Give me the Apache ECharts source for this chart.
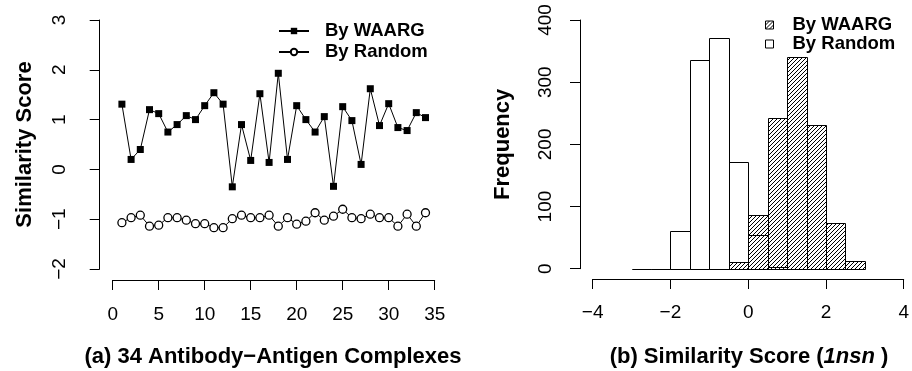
<!DOCTYPE html>
<html>
<head>
<meta charset="utf-8">
<script src="https://cdn.jsdelivr.net/npm/echarts@6/dist/echarts.min.js"></script>
<style>
  html, body { margin: 0; padding: 0; background: #fff; }
  #chart { width: 912px; height: 371px; }
</style>
</head>
<body>
<div id="chart"></div>
<script>
// panel (a): 34 complexes
const caseIdx = [1, 2, 3, 4, 5, 6, 7, 8, 9, 10, 11, 12, 13, 14, 15, 16, 17,
  18, 19, 20, 21, 22, 23, 24, 25, 26, 27, 28, 29, 30, 31, 32, 33, 34];
const waarg = [1.31, 0.20, 0.40, 1.20, 1.12, 0.75, 0.90, 1.08, 1.00, 1.28, 1.54, 1.31,
  -0.35, 0.90, 0.18, 1.52, 0.14, 1.93, 0.20, 1.28, 1.00, 0.75, 1.06, -0.34,
  1.26, 0.98, 0.10, 1.62, 0.88, 1.32, 0.84, 0.78, 1.14, 1.04];
const random = [-1.07, -0.97, -0.92, -1.14, -1.12, -0.97, -0.97, -1.02, -1.09, -1.09,
  -1.17, -1.17, -0.99, -0.92, -0.97, -0.97, -0.92, -1.14, -0.97, -1.10, -1.04,
  -0.87, -1.02, -0.94, -0.80, -0.97, -0.99, -0.90, -0.97, -0.97, -1.14, -0.90,
  -1.14, -0.87];

// panel (b): histograms, bin width 0.5
const binWidth = 0.5;
const randomBinStarts = [-3, -2.5, -2, -1.5, -1, -0.5, 0, 0.5];
const randomCounts = [0, 0, 60, 336, 371, 171, 54, 3];
const waargBinStarts = [-0.5, 0, 0.5, 1, 1.5, 2, 2.5];
const waargCounts = [11, 86, 243, 341, 231, 73, 13];

const legendNames = ['By WAARG', 'By Random'];

const FONT = 'Liberation Sans';
const minus = v => String(v).replace('-', '\u2212');

// "////" hatching like R's density shading
function hatchCanvas() {
  const c = document.createElement('canvas');
  c.width = 4; c.height = 4;
  const g = c.getContext('2d');
  g.fillStyle = '#000';
  for (let i = 0; i < 4; i++) g.fillRect(i, 3 - i, 1, 1);
  return c;
}
const hatchFill = { image: hatchCanvas(), repeat: 'repeat' };

function histItem(fill) {
  return function (params, api) {
    const p0 = api.coord([api.value(0), api.value(2)]);
    const p1 = api.coord([api.value(1), 0]);
    const x0 = Math.round(p0[0]) + 0.5, x1 = Math.round(p1[0]) + 0.5;
    const y0 = Math.round(p0[1]) + 0.5, y1 = Math.round(p1[1]) + 0.5;
    return {
      type: 'rect',
      shape: { x: x0, y: y0, width: x1 - x0, height: y1 - y0 },
      style: { fill: fill, stroke: '#000', lineWidth: 1 }
    };
  };
}

const axisCommon = {
  axisLine: { onZero: false, lineStyle: { color: '#000', width: 1 } },
  axisTick: { length: 10, lineStyle: { color: '#000', width: 1 } },
  splitLine: { show: false },
  axisLabel: { color: '#000', fontSize: 19, fontFamily: FONT, formatter: minus, hideOverlap: false },
  nameTextStyle: { color: '#000', fontSize: 22, fontWeight: 'bold', fontFamily: FONT }
};

const chart = echarts.init(document.getElementById('chart'), null, { renderer: 'canvas' });

chart.setOption({
  animation: false,
  backgroundColor: '#fff',
  textStyle: { fontFamily: FONT },
  title: [
    {
      text: '(a) 34 Antibody\u2212Antigen Complexes',
      left: 273, top: 346, padding: 0, textAlign: 'center',
      textStyle: { fontSize: 22, fontWeight: 'bold', color: '#000', fontFamily: FONT }
    },
    {
      text: '(b) Similarity Score ({i|1nsn} )',
      left: 749, top: 346, padding: 0, textAlign: 'center',
      textStyle: {
        fontSize: 22, fontWeight: 'bold', color: '#000', fontFamily: FONT,
        rich: { i: { fontSize: 22, fontWeight: 'bold', fontStyle: 'italic', color: '#000', fontFamily: FONT } }
      }
    }
  ],
  legend: [
    {
      data: legendNames,
      orient: 'vertical', left: 273, top: 16.5,
      itemWidth: 30, itemHeight: 8, itemGap: 2,
      textStyle: { fontSize: 18.5, fontWeight: 'bold', color: '#000', fontFamily: FONT, lineHeight: 19, padding: [0, 0, 0, 11] }
    },
    {
      data: [
        { name: 'hWAARG', icon: 'rect', itemStyle: { color: hatchFill, borderColor: '#000', borderWidth: 1 } },
        { name: 'hRandom', icon: 'rect', itemStyle: { color: '#fff', borderColor: '#000', borderWidth: 1 } }
      ],
      formatter: n => (n === 'hWAARG' ? legendNames[0] : legendNames[1]),
      orient: 'vertical', left: 760, top: 10.5,
      itemWidth: 8, itemHeight: 8, itemGap: 0,
      textStyle: { fontSize: 18.5, fontWeight: 'bold', color: '#000', fontFamily: FONT, lineHeight: 19, padding: [0, 0, 0, 14] }
    }
  ],
  grid: [
    { left: 112.7, right: 477.3, top: 20, bottom: 102 },
    { left: 592.7, right: 6.7, top: 20, bottom: 102.3 }
  ],
  xAxis: [
    Object.assign({}, axisCommon, {
      type: 'value', gridIndex: 0, min: 0, max: 35, interval: 5, offset: 11,
      axisLabel: Object.assign({}, axisCommon.axisLabel, { margin: 25 })
    }),
    Object.assign({}, axisCommon, {
      type: 'value', gridIndex: 1, min: -4, max: 4, interval: 2, offset: 10.3,
      axisLabel: Object.assign({}, axisCommon.axisLabel, { margin: 24 })
    })
  ],
  yAxis: [
    Object.assign({}, axisCommon, {
      type: 'value', gridIndex: 0, min: -2, max: 3, interval: 1, offset: 13,
      name: 'Similarity Score', nameLocation: 'middle', nameGap: 64,
      axisLabel: Object.assign({}, axisCommon.axisLabel, { rotate: 90, margin: 30 })
    }),
    Object.assign({}, axisCommon, {
      type: 'value', gridIndex: 1, min: 0, max: 400, interval: 100, offset: 12.7,
      name: 'Frequency', nameLocation: 'middle', nameGap: 66,
      axisLabel: Object.assign({}, axisCommon.axisLabel, { rotate: 90, margin: 25 })
    })
  ],
  series: [
    {
      name: legendNames[0], type: 'line', xAxisIndex: 0, yAxisIndex: 0,
      data: caseIdx.map((c, i) => [c, waarg[i]]),
      symbol: 'rect', symbolSize: 7,
      itemStyle: { color: '#000' },
      lineStyle: { color: '#000', width: 1 }
    },
    {
      name: legendNames[1], type: 'line', xAxisIndex: 0, yAxisIndex: 0,
      data: caseIdx.map((c, i) => [c, random[i]]),
      symbol: 'circle', symbolSize: 8,
      itemStyle: { color: '#fff', borderColor: '#000', borderWidth: 1.3 },
      lineStyle: { color: '#000', width: 1 }
    },
    {
      name: 'hRandom', type: 'custom', xAxisIndex: 1, yAxisIndex: 1,
      itemStyle: { color: '#fff' },
      renderItem: histItem('none'),
      data: randomBinStarts.map((s, i) => [s, s + binWidth, randomCounts[i]])
    },
    {
      name: 'hWAARG', type: 'custom', xAxisIndex: 1, yAxisIndex: 1,
      itemStyle: { color: '#555' },
      renderItem: histItem(hatchFill),
      data: waargBinStarts.map((s, i) => [s, s + binWidth, waargCounts[i]])
    }
  ]
});
</script>
</body>
</html>
